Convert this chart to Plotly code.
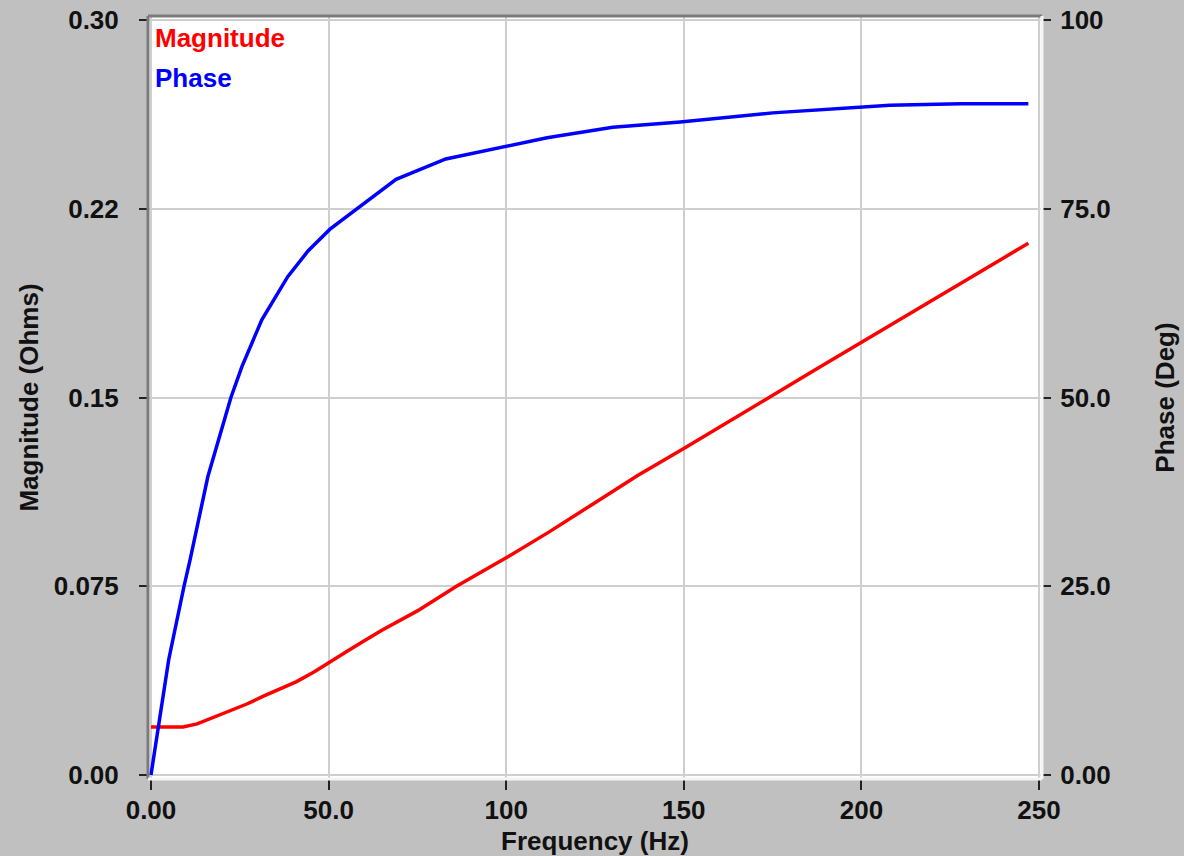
import plotly.graph_objects as go

# ---- data ----
freq_mag = [0, 5, 9, 13, 17, 22, 27, 31.5, 36, 41, 46, 50.4, 55, 59.7, 65, 75, 86,
            100, 112, 125, 137, 150, 162, 174, 187, 200, 212, 225, 236, 247]
magnitude = [0.0191, 0.0191, 0.0191, 0.0203, 0.0225, 0.0252, 0.0282, 0.0312, 0.0340,
             0.0371, 0.0410, 0.0451, 0.0490, 0.0530, 0.0575, 0.0652, 0.0750, 0.0863,
             0.0965, 0.1082, 0.1190, 0.1297, 0.1400, 0.1500, 0.1610, 0.1719, 0.1820,
             0.1930, 0.2020, 0.2113]

freq_ph = [0, 2, 5, 9.3, 11, 16, 20, 22.5, 25.6, 31.2, 38.5, 44.2, 50.4, 58, 69, 83,
           100, 111.5, 130, 149, 175, 200, 208, 228, 247]
phase = [0, 6.4, 15.3, 25, 28.5, 39.5, 46, 50, 54.1, 60.3, 66, 69.4, 72.3, 75, 78.9,
         81.6, 83.2, 84.4, 85.8, 86.5, 87.7, 88.4, 88.7, 88.9, 88.9]

x_ticks = [0, 50, 100, 150, 200, 250]
x_ticktext = ["0.00", "50.0", "100", "150", "200", "250"]
mag_ticks = [0, 0.075, 0.15, 0.225, 0.30]
mag_ticktext = ["0.00", "0.075", "0.15", "0.22", "0.30"]
ph_ticks = [0, 25, 50, 75, 100]
ph_ticktext = ["0.00", "25.0", "50.0", "75.0", "100"]

W, H = 1184, 856
L, R, T, B = 148, 142, 16, 77
PW, PH = W - L - R, H - T - B

FONT = "Liberation Sans"
FS = 26
BG = "#c0c0c0"
GRID = "#cfcfcf"

fig = go.Figure()
fig.add_trace(go.Scatter(x=freq_mag, y=magnitude, mode="lines", name="Magnitude",
                         line=dict(color="#ff0000", width=3.5), yaxis="y"))
fig.add_trace(go.Scatter(x=freq_ph, y=phase, mode="lines", name="Phase",
                         line=dict(color="#0000ff", width=3.5), yaxis="y2"))

tickfont = dict(family=FONT, size=FS, color="#111111", weight="bold")
titlefont = dict(family=FONT, size=FS, color="#111111", weight="bold")

fig.update_layout(
    width=W, height=H,
    margin=dict(l=L, r=R, t=T, b=B, autoexpand=False),
    paper_bgcolor=BG, plot_bgcolor="white",
    showlegend=False,
    xaxis=dict(range=[-0.84, 250.84], tickvals=x_ticks, ticktext=x_ticktext,
               showgrid=True, gridcolor=GRID, gridwidth=2, zeroline=False,
               ticks="outside", ticklen=10, tickwidth=2, tickcolor="#222222",
               tickfont=tickfont, ticklabelstandoff=-2, automargin=False,
               title=dict(text="Frequency (Hz)", font=titlefont, standoff=10)),
    yaxis=dict(range=[-0.0016, 0.3016], tickvals=mag_ticks, ticktext=mag_ticktext,
               showgrid=True, gridcolor=GRID, gridwidth=2, zeroline=False,
               ticks="outside", ticklen=8, tickwidth=2, tickcolor="#222222",
               tickfont=tickfont, ticklabelstandoff=15, automargin=False,
               title=dict(text="Magnitude (Ohms)", font=titlefont, standoff=7)),
    yaxis2=dict(range=[-0.53, 100.53], tickvals=ph_ticks, ticktext=ph_ticktext,
                overlaying="y", side="right", showgrid=False, zeroline=False,
                ticks="outside", ticklen=8, tickwidth=2, tickcolor="#222222",
                tickfont=tickfont, ticklabelstandoff=4, automargin=False,
                title=dict(text="Phase (Deg)", font=titlefont, standoff=45)),
)

# plot frame (sunken look)
fig.add_shape(type="line", xref="paper", yref="paper", x0=0, x1=1, y0=1, y1=1,
              line=dict(color="#7a7a7a", width=3))
fig.add_shape(type="line", xref="paper", yref="paper", x0=0, x1=0, y0=0, y1=1,
              line=dict(color="#7a7a7a", width=3))
fig.add_shape(type="line", xref="paper", yref="paper", x0=0, x1=1, y0=0, y1=0,
              line=dict(color="#f4f4f4", width=3))
fig.add_shape(type="line", xref="paper", yref="paper", x0=1, x1=1, y0=0, y1=1,
              line=dict(color="#f4f4f4", width=3))

# in-plot legend labels
for txt, col, ypx in [("Magnitude", "#ff0000", 38), ("Phase", "#0000ff", 78)]:
    fig.add_annotation(text=txt, xref="paper", yref="paper",
                       x=(153 - L) / PW, y=1 - (ypx - T) / PH,
                       xanchor="left", yanchor="middle", showarrow=False,
                       font=dict(family=FONT, size=FS, color=col, weight="bold"))

fig.write_html(
    "out.html",
    config={"displayModeBar": False},
    post_script="document.body.style.margin='0';document.body.style.background='#c0c0c0';",
)
